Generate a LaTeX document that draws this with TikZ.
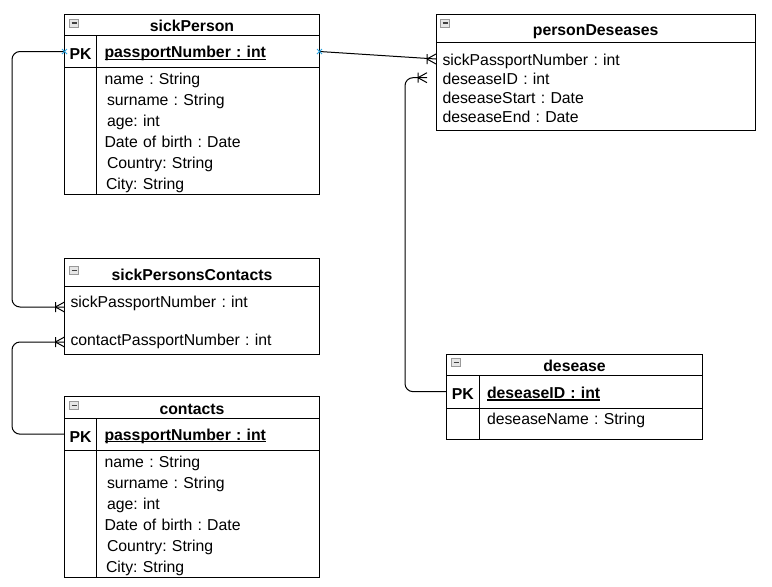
\documentclass[tikz,border=0pt]{standalone}
\usepackage{fontspec}
\setmainfont{Liberation Sans}
\usetikzlibrary{positioning,shapes.misc}
\frenchspacing

\definecolor{markblue}{HTML}{2AA5E3}
\definecolor{iconfill}{HTML}{E6E6E6}

\newcommand{\rowfont}{\fontsize{15.8}{21}\selectfont}
\newcommand{\keyname}[1]{\setbox0\hbox{\bfseries #1}\rlap{\rule[-1.8pt]{\wd0}{1.1pt}}\box0}

\tikzset{
  crowfoot/.pic={\draw (-9,-5) -- (-9,5) (-9,0) -- (0,-5) (-9,0) -- (0,5);}
}

\begin{document}
\begin{tikzpicture}[x=1pt, y=-1pt, line width=1pt,
  every node/.style={outer sep=0pt, font=\rowfont},
  tablehead/.style={draw, anchor=north west, minimum width=255pt, minimum height=21.5pt, inner sep=0pt, text height=14.5pt, font=\rowfont\bfseries},
  minusicon/.style={draw=black!40, fill=iconfill, line width=0.6pt, minimum width=9pt, minimum height=8pt, inner sep=0pt, text height=1.2pt, text=black!75},
  keycell/.style={draw, anchor=north west, minimum width=32pt, inner sep=0pt, text height=16pt, font=\rowfont\bfseries},
  fieldcell/.style={draw, anchor=north west, text width=207pt, inner xsep=8pt, inner ysep=0pt, text height=16pt, align=left},
  pointmark/.style={cross out, draw=markblue, line width=0.9pt, minimum size=5pt, inner sep=0pt}]
	\useasboundingbox (0,0) rectangle (772,587);

	% sickPerson
	\node[tablehead] (sick-person) at (64.5,14) {sickPerson};
	\node[minusicon, below right=5pt and 5pt of sick-person.north west] (sick-person-icon) {\rule{5pt}{1.2pt}};
	\node[keycell, minimum height=32pt] (sick-person-key) at (sick-person.south west) {PK};
	\node[fieldcell, minimum height=32pt] (sick-person-pk) at (sick-person-key.north east) {\keyname{passportNumber : int}};
	\node[keycell, minimum height=127pt] (sick-person-gap) at (sick-person-key.south west) {};
	\node[fieldcell, minimum height=127pt] (sick-person-body) at (sick-person-gap.north east)
		{name : String\\ \hspace*{2.5pt}surname : String\\ \hspace*{2.5pt}age: int\\ Date of birth : Date\\ \hspace*{2.5pt}Country: String\\ \hspace*{1.5pt}City: String};

	% sickPersonsContacts
	\node[tablehead, minimum height=27.7pt, text height=16pt] (sick-persons-contacts) at (64.5,258.3) {sickPersonsContacts};
	\node[minusicon, below right=8pt and 5pt of sick-persons-contacts.north west] (sick-persons-contacts-icon) {\rule{5pt}{1.2pt}};
	\node[fieldcell, text width=243pt, inner xsep=6pt, minimum height=68pt] (sick-persons-contacts-body) at (sick-persons-contacts.south west)
		{sickPassportNumber : int\\[17pt] contactPassportNumber : int};
	\coordinate (spc-sick) at ([yshift=-21pt]sick-persons-contacts-body.north west);
	\coordinate (spc-contact) at ([yshift=-56pt]sick-persons-contacts-body.north west);

	% contacts
	\node[tablehead, minimum height=21.6pt] (contacts) at (64.5,396.7) {contacts};
	\node[minusicon, below right=5pt and 5pt of contacts.north west] (contacts-icon) {\rule{5pt}{1.2pt}};
	\node[keycell, minimum height=31.7pt] (contacts-key) at (contacts.south west) {PK};
	\node[fieldcell, minimum height=31.7pt] (contacts-pk) at (contacts-key.north east) {\keyname{passportNumber : int}};
	\node[keycell, minimum height=127.3pt] (contacts-gap) at (contacts-key.south west) {};
	\node[fieldcell, minimum height=127.3pt] (contacts-body) at (contacts-gap.north east)
		{name : String\\ \hspace*{2.5pt}surname : String\\ \hspace*{2.5pt}age: int\\ Date of birth : Date\\ \hspace*{2.5pt}Country: String\\ \hspace*{1.5pt}City: String};

	% personDeseases
	\node[tablehead, minimum width=319.3pt, minimum height=28pt, text height=18.5pt] (person-deseases) at (436,14) {personDeseases};
	\node[minusicon, below right=5pt and 4.5pt of person-deseases.north west] (person-deseases-icon) {\rule{5pt}{1.2pt}};
	\node[fieldcell, text width=306.3pt, inner xsep=6.5pt, minimum height=88.7pt, font=\fontsize{15.8}{19}\selectfont] (person-deseases-body) at (person-deseases.south west)
		{sickPassportNumber : int\\ deseaseID : int\\ deseaseStart : Date\\ deseaseEnd : Date};
	\coordinate (pd-sick) at ([yshift=-17pt]person-deseases-body.north west);
	\coordinate (pd-desease) at ([xshift=-9pt, yshift=-35.7pt]person-deseases-body.north west);

	% desease
	\node[tablehead, minimum width=255.6pt, minimum height=21pt] (desease) at (446.7,354) {desease};
	\node[minusicon, below right=4.5pt and 5pt of desease.north west] (desease-icon) {\rule{5pt}{1.2pt}};
	\node[keycell, minimum width=32.3pt, minimum height=33.3pt] (desease-key) at (desease.south west) {PK};
	\node[fieldcell, text width=207.3pt, minimum height=33.3pt] (desease-pk) at (desease-key.north east) {\keyname{deseaseID : int}};
	\node[keycell, minimum width=32.3pt, minimum height=30.7pt] (desease-gap) at (desease-key.south west) {};
	\node[fieldcell, text width=207.3pt, minimum height=30.7pt, text depth=14.5pt] (desease-body) at (desease-gap.north east) {deseaseName : String};

	% relations
	\draw (sick-person-pk.east) -- (pd-sick);
	\pic at (pd-sick) {crowfoot};
	\draw[rounded corners=8pt] (sick-person-key.west) -- ++(-52.5,0) |- (spc-sick);
	\pic at (spc-sick) {crowfoot};
	\draw[rounded corners=8pt] (contacts-key.west) -- ++(-52.5,0) |- (spc-contact);
	\pic at (spc-contact) {crowfoot};
	\draw[rounded corners=8pt] (desease-key.west) -- ++(-41.7,0) |- (pd-desease);
	\pic at (pd-desease) {crowfoot};

	\node[pointmark] (sick-person-left-point) at (sick-person-key.west) {};
	\node[pointmark] (sick-person-right-point) at (sick-person-pk.east) {};
\end{tikzpicture}
\end{document}
